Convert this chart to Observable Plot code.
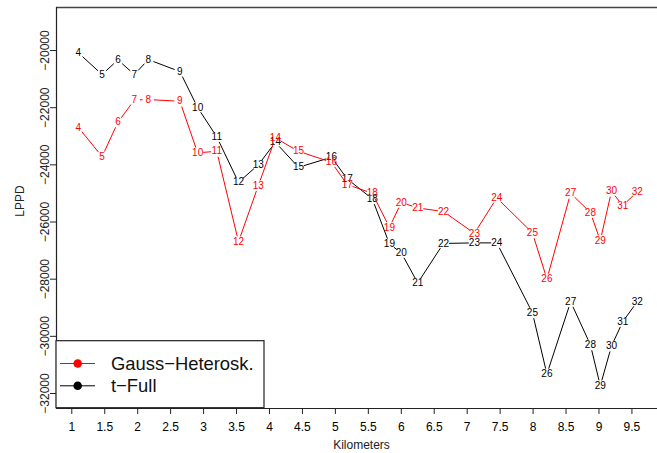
<!DOCTYPE html>
<html>
<head>
<meta charset="utf-8">
<script src="https://cdn.jsdelivr.net/npm/d3@7"></script>
<script src="https://cdn.jsdelivr.net/npm/@observablehq/plot@0.6"></script>
<style>
  html, body { margin: 0; padding: 0; background: #fff; }
  #chart { position: relative; width: 657px; height: 453px; font-family: "Liberation Sans", Arial, Helvetica, sans-serif; }
  #legend { position: absolute; left: 0; top: 0; }
</style>
</head>
<body>
<div id="chart"></div>
<script>
// Station labels (numbered sites) and their distance along the route
const sites = [4, 5, 6, 7, 8, 9, 10, 11, 12, 13, 14, 15, 16, 17, 18, 19, 20, 21, 22, 23, 24, 25, 26, 27, 28, 29, 30, 31, 32];
const km = [1.10, 1.46, 1.70, 1.95, 2.16, 2.64, 2.91, 3.20, 3.53, 3.83, 4.09, 4.44, 4.94, 5.18, 5.56, 5.82, 6.00, 6.25, 6.64, 7.11, 7.45, 7.99, 8.21, 8.57, 8.87, 9.02, 9.19, 9.36, 9.58];

// Log pointwise predictive density per model
const gaussHet = [-22690, -23710, -22510, -21730, -21715, -21775, -23580, -23525, -26690, -24730, -23060, -23525, -23910, -24690, -24995, -26185, -25320, -25505, -25635, -26395, -25155, -26380, -27995, -24995, -25670, -26650, -24925, -25425, -24945];
const tFull = [-20080, -20840, -20325, -20840, -20315, -20735, -21995, -23020, -24610, -24000, -23210, -24085, -23735, -24490, -25190, -26765, -27080, -28130, -26750, -26730, -26730, -29175, -31320, -28790, -30295, -31730, -30340, -29490, -28790];

const seriesNames = ["Gauss−Heterosk.", "t−Full"];
const seriesColors = ["#ff0000", "#000000"];

const xTicks = d3.range(1, 9.51, 0.5);
const yTicks = [-20000, -22000, -24000, -26000, -28000, -30000, -32000];

const font = "Liberation Sans, Arial, Helvetica, sans-serif";
const fmtNum = (d) => String(d).replace("-", "\u2212");

function points(values, model) {
  return sites.map((s, i) => ({site: s, km: km[i], lppd: values[i], model}));
}
function segments(pts) {
  return pts.slice(1).map((p, i) => ({x1: pts[i].km, y1: pts[i].lppd, x2: p.km, y2: p.lppd}));
}

const gPts = points(gaussHet, seriesNames[0]);
const tPts = points(tFull, seriesNames[1]);

const width = 657, height = 453;
const marginLeft = 56, marginTop = 7, marginRight = 0, marginBottom = 45;

const chart = Plot.plot({
  width, height,
  marginLeft, marginTop, marginRight, marginBottom,
  style: {fontFamily: font, background: "#fff", overflow: "visible"},
  x: {domain: [0.768, 9.888]},
  y: {domain: [-32525, -18494]},
  marks: [
    // box (right side falls outside the drawing)
    Plot.ruleY([-18494], {stroke: "#444", strokeWidth: 1.4}),
    Plot.ruleY([-32525], {stroke: "#222", strokeWidth: 1.2}),
    Plot.ruleX([0.768], {stroke: "#222", strokeWidth: 1.2}),

    // axes
    Plot.axisX({ticks: xTicks, tickSize: 6, tickPadding: 8, fontSize: 12, tickFormat: (d) => String(d), label: null, stroke: "#222"}),
    Plot.axisY({ticks: yTicks, tickSize: 6, tickFormat: () => "", label: null, stroke: "#222"}),
    Plot.text(yTicks, {y: (d) => d, frameAnchor: "left", textAnchor: "middle", dx: -11, rotate: -90, text: fmtNum, fontSize: 12, fill: "#222"}),
    Plot.text(["Kilometers"], {frameAnchor: "bottom", dx: 4.5, dy: 40, fontSize: 12, fill: "#222"}),
    Plot.text(["LPPD"], {frameAnchor: "left", textAnchor: "middle", dx: -36, dy: -7, rotate: -90, fontSize: 12, fill: "#222"}),

    // t-Full: segments broken around each label
    Plot.arrow(segments(tPts), {x1: "x1", y1: "y1", x2: "x2", y2: "y2", stroke: seriesColors[1], strokeWidth: 1, headLength: 0, inset: 6}),
    Plot.text(tPts, {x: "km", y: "lppd", text: "site", fill: seriesColors[1], fontSize: 10}),

    // Gauss-Heteroskedastic
    Plot.arrow(segments(gPts), {x1: "x1", y1: "y1", x2: "x2", y2: "y2", stroke: seriesColors[0], strokeWidth: 1, headLength: 0, inset: 6}),
    Plot.text(gPts, {x: "km", y: "lppd", text: "site", fill: seriesColors[0], fontSize: 10})
  ]
});

const container = document.getElementById("chart");
container.appendChild(chart);

// Legend box in the lower-left corner of the plotting region
const legend = d3.select(container).append("svg")
  .attr("id", "legend")
  .attr("width", width).attr("height", height)
  .style("pointer-events", "none");

legend.append("rect")
  .attr("x", 56).attr("y", 340.7)
  .attr("width", 208).attr("height", 67)
  .attr("fill", "#fff").attr("stroke", "#222").attr("stroke-width", 1.2);

const rows = legend.selectAll("g.row")
  .data(seriesNames.map((name, i) => ({name, color: seriesColors[i], y: 363.5 + i * 22.3})))
  .join("g").attr("class", "row");

rows.append("line")
  .attr("x1", 60).attr("x2", 95)
  .attr("y1", (d) => d.y).attr("y2", (d) => d.y)
  .attr("stroke", (d) => d.color).attr("stroke-width", 1);
rows.append("circle")
  .attr("cx", 77.7).attr("cy", (d) => d.y).attr("r", 4.3)
  .attr("fill", (d) => d.color);
rows.append("text")
  .attr("x", 111).attr("y", (d) => d.y)
  .attr("dy", "0.35em")
  .attr("font-family", font).attr("font-size", 18.4)
  .attr("fill", "#111")
  .text((d) => d.name);
</script>
</body>
</html>
